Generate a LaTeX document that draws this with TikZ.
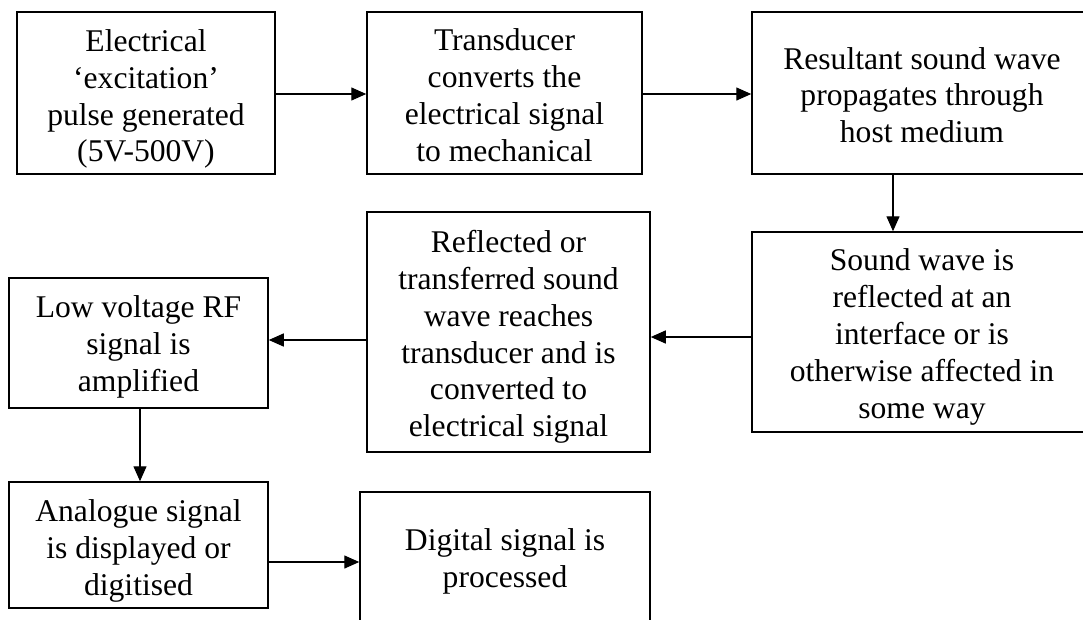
\documentclass[tikz,border=0pt]{standalone}
\usepackage{fontspec}
\setmainfont{Liberation Serif}
\usetikzlibrary{arrows.meta}
\begin{document}
\begin{tikzpicture}[x=1pt,y=-1pt,
  box/.style={draw, line width=1.5pt, rectangle, inner sep=0pt},
  txt/.style={inner sep=0pt, align=center, font=\fontsize{31.6}{36.8}\selectfont},
  arr/.style={line width=1.4pt, -{Triangle[length=15pt,width=13pt]}}]
\useasboundingbox (0,0) rectangle (1083,619);
\clip (0,0) rectangle (1083,619);
\node[box, minimum width=258pt, minimum height=162pt] (b1) at (146,93) {};
\node[box, minimum width=275pt, minimum height=162pt] (b2) at (504.5,93) {};
\node[box, minimum width=340pt, minimum height=162pt] (b3) at (922,93) {};
\node[box, minimum width=340pt, minimum height=200pt] (b4) at (922,332) {};
\node[box, minimum width=283pt, minimum height=240pt] (b5) at (508.5,332) {};
\node[box, minimum width=259pt, minimum height=130pt] (b6) at (138.5,343) {};
\node[box, minimum width=259pt, minimum height=126pt] (b7) at (138.5,545) {};
\node[box, minimum width=290pt, minimum height=136pt] (b8) at (505,560) {};
\node[txt] (t1) at ([yshift=-6pt]b1.center) {Electrical\\‘excitation’\\pulse generated\\(5V-500V)};
\node[txt] (t2) at ([yshift=-2pt]b2.center) {Transducer\\converts the\\electrical signal\\to mechanical};
\node[txt] (t3) at ([yshift=-2pt]b3.center) {Resultant sound wave\\propagates through\\host medium};
\node[txt] (t4) at ([yshift=-5pt]b4.center) {Sound wave is\\reflected at an\\interface or is\\otherwise affected in\\some way};
\node[txt] (t5) at ([yshift=-5pt]b5.center) {Reflected or\\transferred sound\\wave reaches\\transducer and is\\converted to\\electrical signal};
\node[txt] (t6) at ([yshift=-4pt]b6.center) {Low voltage RF\\signal is\\amplified};
\node[txt] (t7) at ([yshift=-6pt]b7.center) {Analogue signal\\is displayed or\\digitised};
\node[txt] (t8) at ([yshift=-1pt]b8.center) {Digital signal is\\processed};
\draw[arr] ([yshift=-1pt]b1.east) -- ([yshift=-1pt]b2.west);
\draw[arr] ([yshift=-1pt]b2.east) -- ([yshift=-1pt]b3.west);
\draw[arr] ([xshift=-29pt]b3.south) -- ([xshift=-29pt]b4.north);
\draw[arr] ([yshift=-5pt]b4.west) -- ([yshift=-5pt]b5.east);
\draw[arr] ([yshift=-8pt]b5.west) -- ([yshift=-8pt]b5.west -| b6.east);
\draw[arr] ([xshift=1.5pt]b6.south) -- ([xshift=1.5pt]b7.north);
\draw[arr] ([yshift=-17pt]b7.east) -- ([yshift=-17pt]b7.east -| b8.west);
\end{tikzpicture}
\end{document}
